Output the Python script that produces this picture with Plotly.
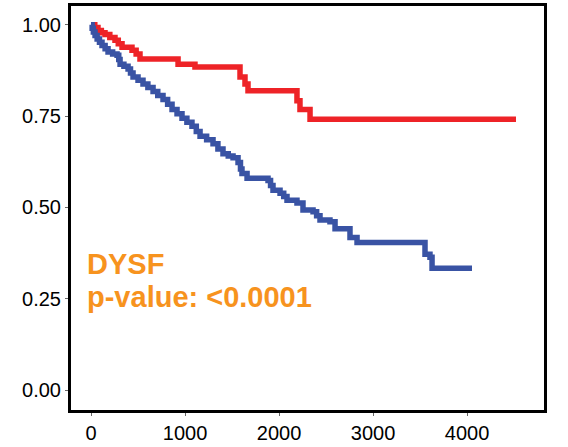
import plotly.graph_objects as go

# Kaplan-Meier style survival curves (time in days, survival probability)
red_time = [0, 40, 74, 110, 149, 200, 255, 290, 330, 436, 480, 521, 926, 1106, 1585, 1638, 1670,
            2191, 2223, 2330, 4521]
red_surv = [1.0, 0.992, 0.984, 0.978, 0.973, 0.965, 0.957, 0.948, 0.938, 0.930, 0.920, 0.906,
            0.892, 0.884, 0.857, 0.838, 0.819, 0.792, 0.768, 0.741, 0.741]

blue_time = [0, 12, 25, 43, 65, 90, 117, 150, 181, 230, 277, 295, 309, 350, 394, 420, 447, 500,
             553, 605, 660, 710, 766, 815, 862, 915, 968, 1020, 1074, 1120, 1160, 1230, 1298,
             1350, 1404, 1460, 1511, 1564, 1590, 1606, 1660, 1883, 1910, 1936, 2011, 2050, 2085,
             2191, 2255, 2362, 2400, 2436, 2542, 2596, 2755, 2830, 3553, 3606, 3628, 4053]
blue_surv = [1.0, 0.990, 0.980, 0.970, 0.961, 0.952, 0.943, 0.934, 0.925, 0.920, 0.916, 0.905,
             0.892, 0.886, 0.879, 0.868, 0.857, 0.848, 0.838, 0.828, 0.817, 0.806, 0.795, 0.782,
             0.768, 0.756, 0.744, 0.733, 0.722, 0.708, 0.695, 0.685, 0.674, 0.660, 0.647, 0.641,
             0.636, 0.623, 0.605, 0.593, 0.580, 0.574, 0.560, 0.547, 0.539, 0.530, 0.520, 0.512,
             0.493, 0.488, 0.477, 0.466, 0.461, 0.442, 0.418, 0.404, 0.372, 0.364, 0.334, 0.334]

x_ticks = [0, 1000, 2000, 3000, 4000]
y_ticks = [0.0, 0.25, 0.5, 0.75, 1.0]
y_tick_labels = ["0.00", "0.25", "0.50", "0.75", "1.00"]

gene_label = "DYSF"
pvalue_label = "p-value: <0.0001"

fig = go.Figure()
fig.add_trace(go.Scatter(x=red_time, y=red_surv, mode="lines", line_shape="hv",
                         line=dict(color="#EE2327", width=5.5), showlegend=False))
fig.add_trace(go.Scatter(x=blue_time, y=blue_surv, mode="lines", line_shape="hv",
                         line=dict(color="#3953A4", width=5.5), showlegend=False))

fig.add_annotation(x=-62, y=0.345, xref="x", yref="y", text="<b>" + gene_label + "</b>",
                   showarrow=False, xanchor="left", yanchor="middle",
                   font=dict(family="Liberation Sans, Arial", size=29, color="#F7931E"))
fig.add_annotation(x=-62, y=0.256, xref="x", yref="y", text="<b>" + pvalue_label + "</b>",
                   showarrow=False, xanchor="left", yanchor="middle",
                   font=dict(family="Liberation Sans, Arial", size=29, color="#F7931E"))

axis_font = dict(family="Liberation Sans, Arial", size=20, color="black")
fig.update_xaxes(range=[-213, 4819], tickvals=x_ticks, showgrid=False, zeroline=False,
                 showline=True, linecolor="black", linewidth=3, mirror=True,
                 ticks="outside", ticklen=3, tickcolor="#666", tickwidth=1,
                 tickfont=axis_font)
fig.update_yaxes(range=[-0.054, 1.051], tickvals=y_ticks, ticktext=y_tick_labels,
                 showgrid=False, zeroline=False,
                 showline=True, linecolor="black", linewidth=3, mirror=True,
                 ticks="outside", ticklen=3, tickcolor="#666", tickwidth=1,
                 tickfont=axis_font)

fig.update_layout(width=568, height=447, margin=dict(l=71, r=24, t=3, b=34),
                  paper_bgcolor="white", plot_bgcolor="white")

fig.write_html("out.html")
